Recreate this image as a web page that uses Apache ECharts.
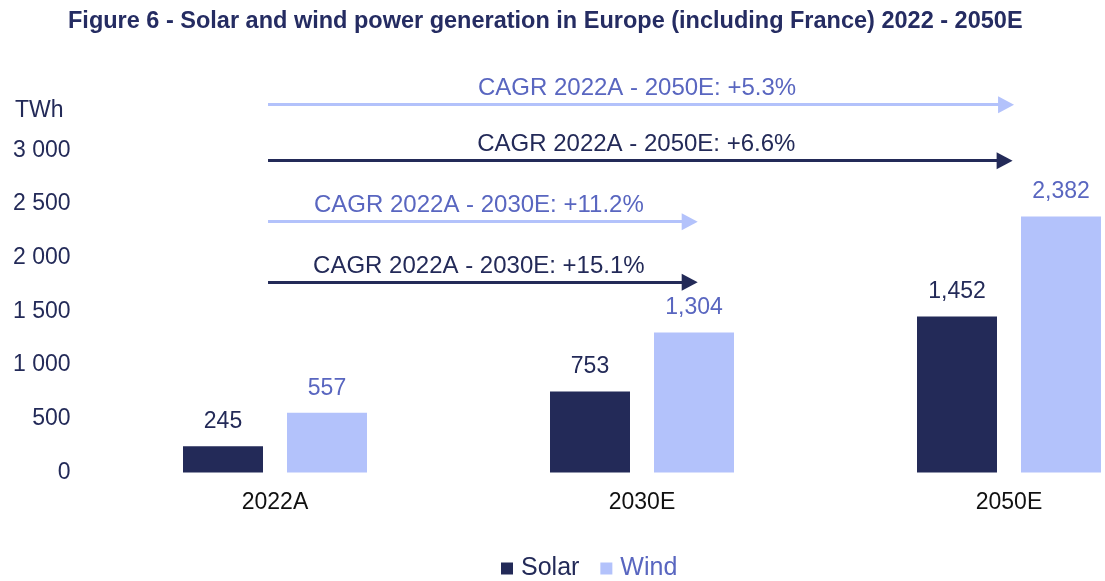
<!DOCTYPE html>
<html>
<head>
<meta charset="utf-8">
<script src="https://cdn.jsdelivr.net/npm/echarts@6/dist/echarts.min.js"></script>
<style>
html,body{margin:0;padding:0;background:#fff;}
#chart{width:1105px;height:581px;}
</style>
</head>
<body>
<div id="chart"></div>
<script>
const categories = ['2022A', '2030E', '2050E'];
const solar = [245, 753, 1452];
const wind = [557, 1304, 2382];
const cagrLabels = [
  'CAGR 2022A - 2050E: +5.3%',
  'CAGR 2022A - 2050E: +6.6%',
  'CAGR 2022A - 2030E: +11.2%',
  'CAGR 2022A - 2030E: +15.1%'
];

const FONT = "'Liberation Sans', Arial, sans-serif";
const NAVY = '#232a58';
const LIGHT = '#b3c2fb';
const MID = '#5966c0';

function fmtComma(v) { return String(v).replace(/\B(?=(\d{3})+(?!\d))/g, ','); }
function fmtSpace(v) { return String(v).replace(/\B(?=(\d{3})+(?!\d))/g, ' '); }

function arrow(label, y, x0, x1, color, textColor) {
  return [
    { coord: [x0, y], label: { show: true, formatter: label, position: 'insideMiddleTop', color: textColor, fontSize: 24, fontFamily: FONT, distance: 4 }, lineStyle: { color: color, width: 3, type: 'solid' } },
    { coord: [x1, y] }
  ];
}

const chart = echarts.init(document.getElementById('chart'));
chart.setOption({
  animation: false,
  backgroundColor: '#fff',
  title: {
    text: 'Figure 6 - Solar and wind power generation in Europe (including France) 2022 - 2050E',
    left: 63, top: 5,
    textStyle: { fontFamily: FONT, fontWeight: 'bold', fontSize: 23.5, color: '#252c62' }
  },
  graphic: [{
    type: 'text', left: 15, top: 99,
    style: { text: 'TWh', font: '23px ' + FONT, fill: NAVY }
  }],
  legend: {
    top: 551, left: 496,
    itemWidth: 12, itemHeight: 12, itemGap: 21,
    icon: 'rect',
    data: [
      { name: 'Solar', textStyle: { color: NAVY } },
      { name: 'Wind', textStyle: { color: MID } }
    ],
    textStyle: { fontFamily: FONT, fontSize: 25, padding: [0, 0, 0, 3] }
  },
  grid: { left: 91.5, right: -87.5, top: 96.5, bottom: 108.5, containLabel: false, outerBoundsMode: 'none' },
  xAxis: [{
    type: 'category', data: categories,
    axisLine: { show: false }, axisTick: { show: false },
    axisLabel: { color: '#111', fontSize: 23, fontFamily: FONT, margin: 19 }
  }, {
    type: 'value', min: -0.5, max: 2.5, show: false
  }],
  yAxis: {
    type: 'value', min: 0, max: 3500, interval: 500,
    axisLine: { show: false }, axisTick: { show: false }, splitLine: { show: false },
    axisLabel: { showMaxLabel: false, color: NAVY, fontSize: 23, fontFamily: FONT, margin: 21, formatter: fmtSpace }
  },
  series: [{
    name: 'Solar', type: 'bar', data: solar, barWidth: 80, barGap: '30%',
    itemStyle: { color: NAVY },
    label: { show: true, position: 'top', distance: 13, color: NAVY, fontSize: 23, fontFamily: FONT, formatter: p => fmtComma(p.value) }
  }, {
    name: 'Wind', type: 'bar', data: wind, barWidth: 80,
    itemStyle: { color: LIGHT },
    label: { show: true, position: 'top', distance: 13, color: MID, fontSize: 23, fontFamily: FONT, formatter: p => fmtComma(p.value) }
  }, {
    name: 'arrows', type: 'line', xAxisIndex: 1, yAxisIndex: 0, data: [],
    silent: true,
    markLine: {
      silent: true, animation: false,
      symbol: ['none', 'triangle'], symbolSize: [17, 16],
      data: [
        arrow(cagrLabels[0], 3424, -0.019, 1.992, LIGHT, MID),
        arrow(cagrLabels[1], 2902, -0.019, 1.988, NAVY, NAVY),
        arrow(cagrLabels[2], 2335, -0.019, 1.130, LIGHT, MID),
        arrow(cagrLabels[3], 1770, -0.019, 1.130, NAVY, NAVY)
      ]
    }
  }]
});
</script>
</body>
</html>
